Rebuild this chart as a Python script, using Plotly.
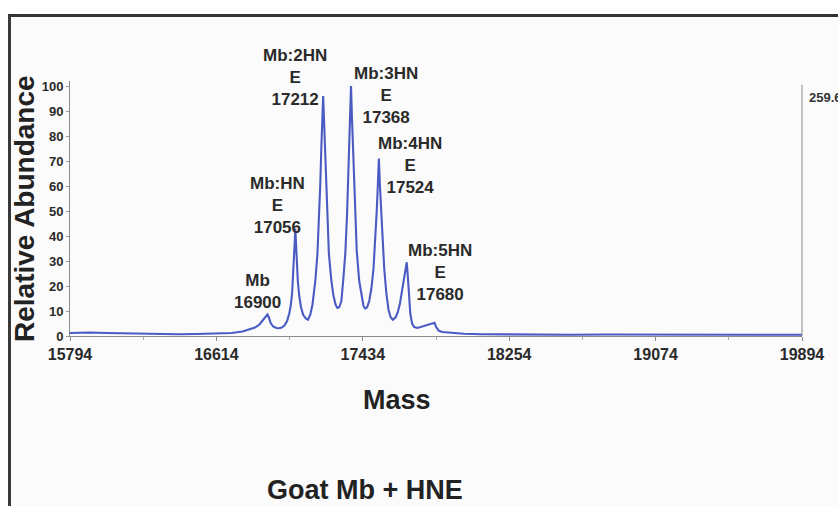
import plotly.graph_objects as go

# Deconvoluted spectrum: mass (Da) and relative abundance (%)
mass = [
    15794, 15900, 16000, 16100, 16200, 16300, 16400, 16500, 16600, 16700,
    16760, 16800, 16830, 16855, 16875, 16890, 16900, 16908, 16918, 16932,
    16950, 16965, 16980, 16995, 17010, 17022, 17030, 17038, 17044, 17049,
    17053, 17056, 17060, 17064, 17070, 17078, 17088, 17100, 17115, 17127,
    17140, 17152, 17160, 17168, 17180, 17190, 17196, 17202, 17207, 17212,
    17217, 17222, 17228, 17234, 17244, 17258, 17270, 17282, 17292, 17302,
    17314, 17324, 17336, 17346, 17352, 17358, 17363, 17368, 17373, 17378,
    17384, 17390, 17400, 17414, 17426, 17438, 17448, 17458, 17470, 17482,
    17494, 17504, 17512, 17518, 17524, 17530, 17536, 17544, 17554, 17566,
    17578, 17590, 17602, 17618, 17630, 17642, 17654, 17664, 17672, 17680,
    17686, 17692, 17700, 17710, 17722, 17740, 17765, 17790, 17810, 17825,
    17836, 17845, 17860, 17880, 17920, 17960, 18000, 18100, 18254, 18400,
    18600, 18800, 19000, 19200, 19400, 19600, 19894,
]
abundance = [
    1.2, 1.4, 1.2, 1.0, 0.9, 0.8, 0.7, 0.8, 0.9, 1.2,
    1.8, 2.6, 3.4, 4.6, 6.2, 7.8, 8.6, 7.4, 5.2, 3.8,
    3.2, 3.1, 3.4, 4.2, 6.0, 9.0, 12, 17, 24, 31,
    38, 43, 37, 30, 22, 16, 11.5, 8.5, 7.0, 6.5,
    8.5, 12.5, 16.5, 22, 33, 49, 61, 76, 86, 96,
    86, 76, 61, 49, 33, 22, 16, 12.5, 11.2, 11.5,
    14, 22, 33, 49, 61, 76, 87, 100, 88, 77,
    62, 50, 34, 22, 16, 12, 11, 11.5, 14, 19,
    27, 38, 50, 60, 71, 60, 50, 38, 27, 17,
    10.5, 7.5, 6.5, 7.5, 9.5, 13, 18, 23, 27, 29.5,
    24, 16, 9.0, 5.0, 3.6, 3.2, 3.8, 4.3, 4.8, 5.1,
    5.3, 3.6, 2.1, 1.6, 1.3, 1.1, 0.9, 0.7, 0.6, 0.6,
    0.5, 0.6, 0.5, 0.6, 0.5, 0.5, 0.5,
]

x_ticks = [15794, 16614, 17434, 18254, 19074, 19894]
y_ticks = [0, 10, 20, 30, 40, 50, 60, 70, 80, 90, 100]
right_axis_label = "259.6"

peak_labels = [
    "Mb<br>16900",
    "Mb:HN<br>E<br>17056",
    "Mb:2HN<br>E<br>17212",
    "Mb:3HN<br>E<br>17368",
    "Mb:4HN<br>E<br>17524",
    "Mb:5HN<br>E<br>17680",
]

# Layout geometry (pixels)
W, H = 838, 506
L, R, T, B = 70, 802, 81, 336


def px(x):
    return (x - L) / (R - L)


def py(y):
    return (B - y) / (B - T)


label_pos = [(257, 291), (277, 205), (295, 77), (386, 95), (410, 165), (440, 272)]

FONT = "Liberation Sans, Arial, sans-serif"
TXT = "#2a2a2a"

fig = go.Figure()
fig.add_trace(go.Scatter(
    x=mass, y=abundance, mode="lines",
    line=dict(color="#4a5bc4", width=2.1),
    hoverinfo="skip", showlegend=False,
))

shapes = [
    # light panel inside the frame
    dict(type="rect", xref="paper", yref="paper", x0=px(9), x1=px(845), y0=py(15), y1=py(515),
         fillcolor="#fbfbfb", line=dict(width=0), layer="below"),
    # frame: top and left rules
    dict(type="line", xref="paper", yref="paper", x0=px(8), x1=px(845), y0=py(15.5), y1=py(15.5),
         line=dict(color="#2f3533", width=3)),
    dict(type="line", xref="paper", yref="paper", x0=px(9.5), x1=px(9.5), y0=py(15), y1=py(515),
         line=dict(color="#3a3a3a", width=3)),
    # right-hand axis rule
    dict(type="line", xref="paper", yref="y", x0=1, x1=1, y0=0, y1=100.5,
         line=dict(color="#8a8a8a", width=1)),
]

annotations = []
for text, (ax, ay) in zip(peak_labels, label_pos):
    annotations.append(dict(
        text=text, x=px(ax), y=py(ay), xref="paper", yref="paper",
        xanchor="center", yanchor="middle", showarrow=False, align="center",
        font=dict(family=FONT, size=17, color=TXT, weight="bold"),
    ))

annotations += [
    dict(text="Relative Abundance", x=px(24), y=py(209), xref="paper", yref="paper",
         textangle=-90, showarrow=False, xanchor="center", yanchor="middle",
         font=dict(family=FONT, size=28, color="#222", weight="bold")),
    dict(text="Mass", x=px(397), y=py(400), xref="paper", yref="paper",
         showarrow=False, xanchor="center", yanchor="middle",
         font=dict(family=FONT, size=27, color="#222", weight="bold")),
    dict(text="Goat Mb + HNE", x=px(365), y=py(490), xref="paper", yref="paper",
         showarrow=False, xanchor="center", yanchor="middle",
         font=dict(family=FONT, size=27, color="#222", weight="bold")),
    dict(text=right_axis_label, x=px(807), y=py(97), xref="paper", yref="paper",
         showarrow=False, xanchor="left", yanchor="middle",
         font=dict(family=FONT, size=13, color="#333", weight="bold")),
]

fig.update_layout(
    width=W, height=H,
    margin=dict(l=L, r=W - R, t=T, b=H - B, pad=0),
    paper_bgcolor="white", plot_bgcolor="rgba(0,0,0,0)",
    shapes=shapes, annotations=annotations,
    showlegend=False,
)
fig.update_xaxes(
    range=[15794, 19894], tickvals=x_ticks, ticktext=[str(v) for v in x_ticks],
    showgrid=False, zeroline=False, showline=True, linecolor="#8a8a8a", linewidth=1,
    ticks="outside", ticklen=4, tickcolor="#8a8a8a",
    minor=dict(dtick=410, tick0=15794, ticks="outside", ticklen=3, tickcolor="#aaa", showgrid=False),
    tickfont=dict(family=FONT, size=16, color=TXT, weight="bold"),
)
fig.update_yaxes(
    range=[0, 102], tickvals=y_ticks,
    showgrid=False, zeroline=False, showline=True, linecolor="#8a8a8a", linewidth=1,
    ticks="outside", ticklen=3, tickcolor="#999",
    tickfont=dict(family=FONT, size=13, color=TXT, weight="bold"),
)

fig.write_html("out.html")
